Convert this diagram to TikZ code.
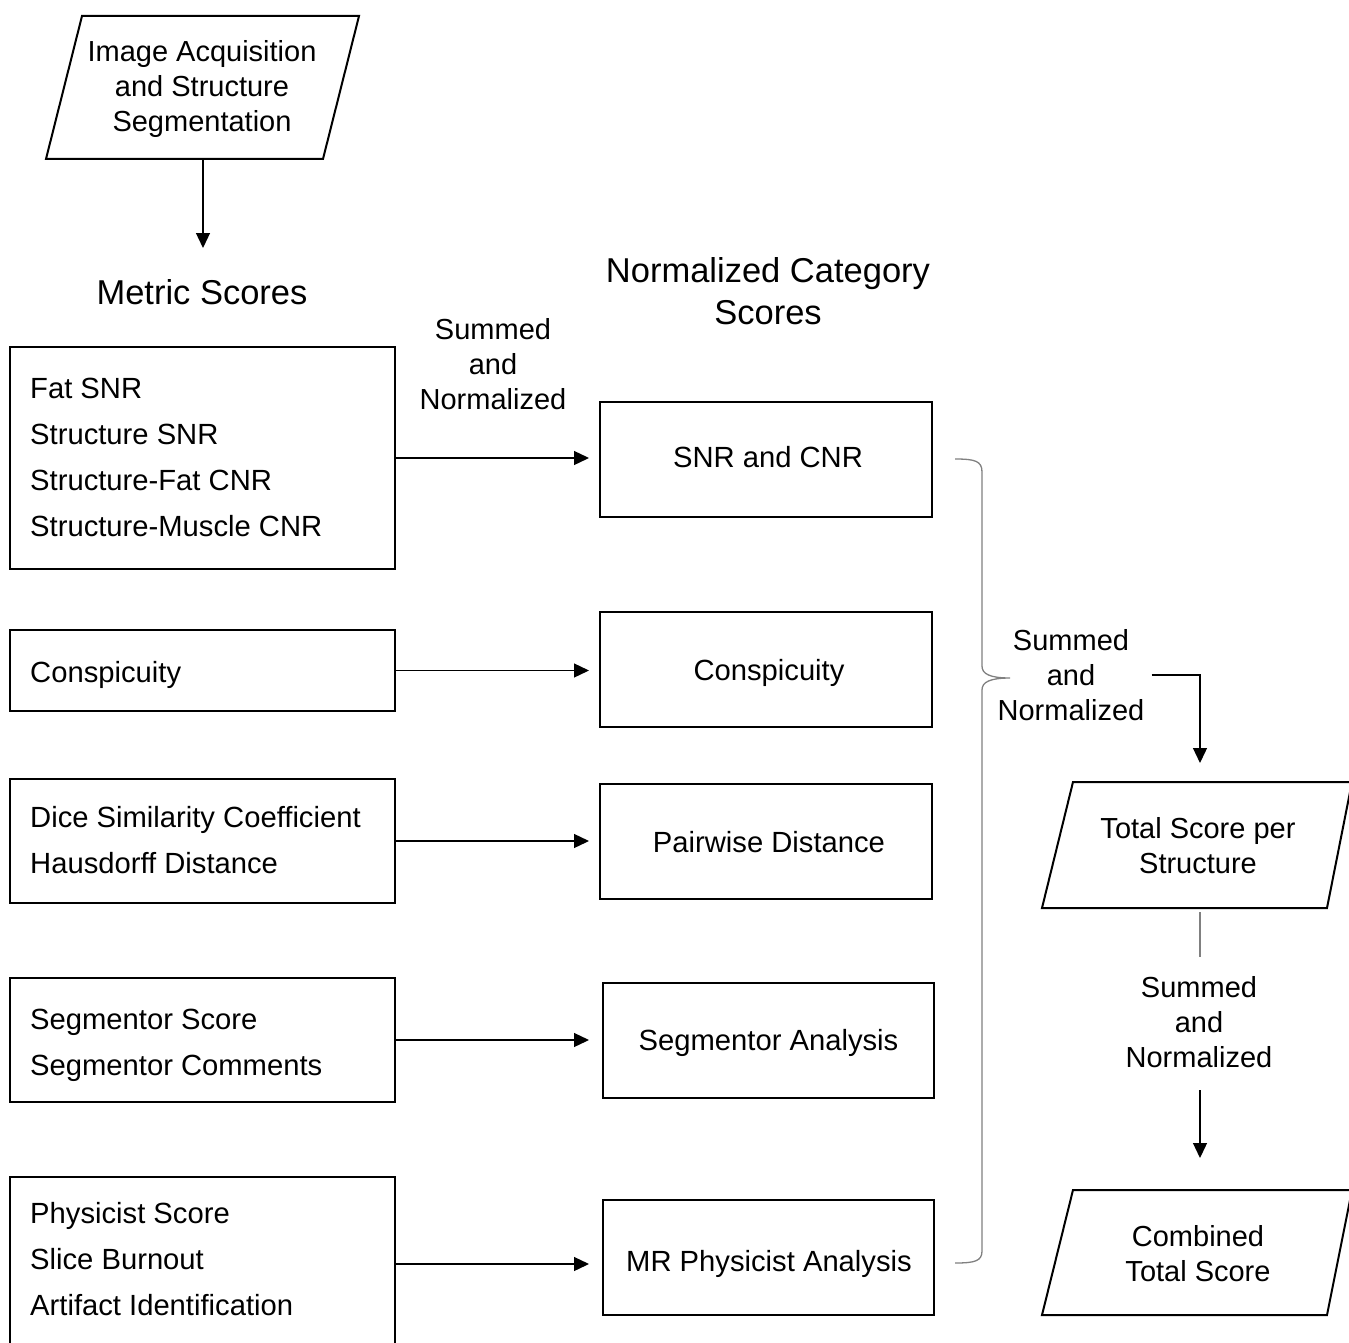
\documentclass[tikz,border=0pt]{standalone}
\usepackage{fontspec}
\setmainfont{Liberation Sans}
\usetikzlibrary{arrows.meta}
\begin{document}
\begin{tikzpicture}[x=1pt,y=-1pt,
  txt/.style={font=\fontsize{29}{35}\selectfont, align=center, inner sep=4pt},
  head/.style={font=\fontsize{34.5}{42}\selectfont, align=center, inner sep=4pt},
  lbox/.style={draw, line width=2pt, minimum width=385pt, inner sep=0pt},
  ltxt/.style={anchor=west, align=left, inner sep=0pt, font=\fontsize{29.2}{46}\selectfont},
  mbox/.style={draw, line width=2pt, minimum width=332pt, minimum height=115pt, inner sep=0pt},
  mtxt/.style={inner sep=0pt, font=\fontsize{29.2}{35}\selectfont},
  pbox/.style={draw, line width=2pt, line join=miter},
  arr/.style={line width=1.3pt, -{Triangle[width=14pt,length=15pt]}},
  brace/.style={draw=gray, line width=1.3pt},
  thinln/.style={draw=gray, line width=1.3pt}]
\useasboundingbox (0,0) rectangle (1349,1343);
\clip (0,0) rectangle (1349,1343);

% top parallelogram
\draw[pbox] (82,16) -- (359,16) -- (323,159) -- (46,159) -- cycle;
\node[txt] (img) at (202,89) {Image Acquisition\\and Structure\\Segmentation};
\coordinate (imgb) at (203,159);
\node[head] (metric) at (202,292) {Metric Scores};
\draw[arr] (imgb) -- (203,248);

% headings
\node[head] (norm) at (768,291) {Normalized Category\\Scores};
\node[txt] (sum1) at (493,364) {Summed\\and\\Normalized};

% left boxes
\node[lbox, minimum height=222pt] (l1) at (202.5,458) {};
\node[lbox, minimum height=81pt] (l2) at (202.5,670.5) {};
\node[lbox, minimum height=124pt] (l3) at (202.5,841) {};
\node[lbox, minimum height=124pt] (l4) at (202.5,1040) {};
\node[lbox, minimum height=174pt] (l5) at (202.5,1264) {};
\node[ltxt] (l1t) at (30,457) {Fat SNR\\Structure SNR\\Structure-Fat CNR\\Structure-Muscle CNR};
\node[ltxt] (l2t) at (30,674.5) {Conspicuity};
\node[ltxt] (l3t) at (30,840) {Dice Similarity Coefficient\\Hausdorff Distance};
\node[ltxt] (l4t) at (30,1045) {Segmentor Score\\Segmentor Comments};
\node[ltxt] (l5t) at (30,1259) {Physicist Score\\Slice Burnout\\Artifact Identification};

% middle boxes
\node[mbox] (m1) at (766,459.5) {};
\node[mbox] (m2) at (766,669) {};
\node[mbox] (m3) at (766,841) {};
\node[mbox, minimum width=331pt] (m4) at (768.5,1040) {};
\node[mbox, minimum width=331pt] (m5) at (768.5,1257.5) {};
\node[mtxt] (m1t) at (768,457.5) {SNR and CNR};
\node[mtxt] (m2t) at (769,673) {Conspicuity};
\node[mtxt] (m3t) at (769,842) {Pairwise Distance};
\node[mtxt] (m4t) at (768.5,1043) {Segmentor Analysis};
\node[mtxt] (m5t) at (769,1263.5) {MR Physicist Analysis};

% arrows left -> middle
\draw[arr, shorten >=10pt] (l1.east) -- (l1.east -| m1.west);
\draw[arr, shorten >=10pt] (l2.east) -- (l2.east -| m2.west);
\draw[arr, shorten >=10pt] (l3.east) -- (l3.east -| m3.west);
\draw[arr, shorten >=13pt] (l4.east) -- (l4.east -| m4.west);
\draw[arr, shorten >=13pt] (l5.east) -- (l5.east -| m5.west);

% brace
\path[brace] (955,459) .. controls (975,459) and (982,461) .. (982,472) -- (982,666)
  .. controls (982,674) and (990,678) .. (1010,678)
  .. controls (990,678) and (982,682) .. (982,690) -- (982,1251)
  .. controls (982,1261) and (975,1263) .. (955,1263);

% right side
\node[txt] (sum2) at (1071,675) {Summed\\and\\Normalized};
\draw[pbox] (1073,782) -- (1352,782) -- (1327,908) -- (1042,908) -- cycle;
\node[txt] (ts) at (1198,846) {Total Score per\\Structure};
\coordinate (tsn) at (1200,763);
\draw[arr] ([xshift=3pt]sum2.east) -| (tsn);

\coordinate (c1) at (1200,912);
\coordinate (c2) at (1200,957);
\path[thinln] (c1) -- (c2);
\node[txt] (sum3) at (1199,1022) {Summed\\and\\Normalized};
\coordinate (c3) at (1200,1090);
\coordinate (c4) at (1200,1158);
\draw[arr] (c3) -- (c4);

\draw[pbox] (1073,1190) -- (1352,1190) -- (1327,1315) -- (1042,1315) -- cycle;
\node[txt] (cts) at (1198,1254) {Combined\\Total Score};
\end{tikzpicture}
\end{document}
